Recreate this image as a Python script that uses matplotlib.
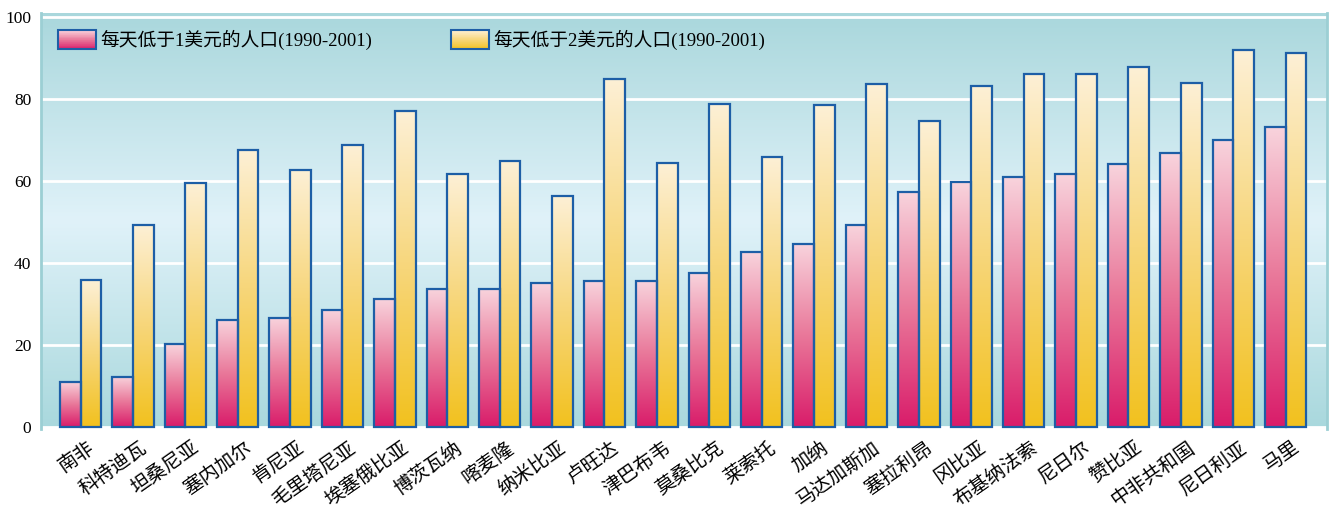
import numpy as np
import matplotlib
matplotlib.use('Agg')
import matplotlib.pyplot as plt
from matplotlib.colors import LinearSegmentedColormap
from matplotlib.legend_handler import HandlerBase
from matplotlib.patches import Rectangle
import matplotlib.transforms as mtransforms

# ---------------- data ----------------
countries = ['南非', '科特迪瓦', '坦桑尼亚', '塞内加尔', '肯尼亚', '毛里塔尼亚',
             '埃塞俄比亚', '博茨瓦纳', '喀麦隆', '纳米比亚', '卢旺达', '津巴布韦',
             '莫桑比克', '莱索托', '加纳', '马达加斯加', '塞拉利昂', '冈比亚',
             '布基纳法索', '尼日尔', '赞比亚', '中非共和国', '尼日利亚', '马里']
below_1usd = [11.0, 12.3, 20.2, 26.2, 26.7, 28.7, 31.3, 33.8, 33.8, 35.1, 35.7, 35.7,
              37.7, 42.8, 44.8, 49.3, 57.3, 59.9, 61.1, 61.7, 64.3, 66.9, 70.1, 73.3]
below_2usd = [35.8, 49.3, 59.6, 67.6, 62.8, 68.9, 77.2, 61.8, 64.8, 56.4, 84.9, 64.4,
              78.9, 66.0, 78.6, 83.6, 74.6, 83.3, 86.2, 86.2, 87.8, 83.9, 91.9, 91.3]
series_labels = ['每天低于1美元的人口(1990-2001)', '每天低于2美元的人口(1990-2001)']
yticks = [0, 20, 40, 60, 80, 100]

FONT = ['Liberation Serif', 'Noto Sans CJK SC']
plt.rcParams['font.family'] = FONT

EDGE = '#1d5ea6'
pink_cmap = LinearSegmentedColormap.from_list('pink', ['#d91c6a', '#e9789a', '#f8d4dd'])
gold_cmap = LinearSegmentedColormap.from_list('gold', ['#f2c11e', '#f7d67a', '#fdf0d6'])
bg_cmap = LinearSegmentedColormap.from_list(
    'bg', [(0, '#a9d8dd'), (0.5, '#e0f2f9'), (1, '#a9d7dc')])


class GradHandler(HandlerBase):
    def __init__(self, cmap, edge):
        super().__init__()
        self.cmap = cmap
        self.edge = edge

    def create_artists(self, legend, orig_handle, xdescent, ydescent,
                       width, height, fontsize, trans):
        n = 30
        arts = []
        for i in range(n):
            r = Rectangle((-xdescent, -ydescent + i * height / n), width,
                          height / n * 1.05, facecolor=self.cmap((i + 0.5) / n),
                          edgecolor='none', transform=trans)
            arts.append(r)
        arts.append(Rectangle((-xdescent, -ydescent), width, height,
                              facecolor='none', edgecolor=self.edge, lw=1.5,
                              transform=trans))
        return arts


W, H = 1333, 508
fig = plt.figure(figsize=(W / 100, H / 100), dpi=100)
ax_top, ax_bot, ax_l, ax_r = 13, 428.5, 41, 1327
ax = fig.add_axes([ax_l / W, (H - ax_bot) / H, (ax_r - ax_l) / W, (ax_bot - ax_top) / H])

x = np.arange(len(countries))
w = 0.395
xlim = (-0.754, 23.79)
ylim = (-0.3, 101)

grad = np.linspace(0, 1, 256).reshape(-1, 1)
ax.imshow(grad, aspect='auto', cmap=bg_cmap, origin='lower',
          extent=[xlim[0], xlim[1], ylim[0], ylim[1]], zorder=0,
          interpolation='bilinear')

bars1 = ax.bar(x - w / 2, below_1usd, w, facecolor='none', edgecolor=EDGE,
               lw=1.6, zorder=3)
bars2 = ax.bar(x + w / 2, below_2usd, w, facecolor='none', edgecolor=EDGE,
               lw=1.6, zorder=3)
for bars, cmap in ((bars1, pink_cmap), (bars2, gold_cmap)):
    for b in bars:
        bx, by, bw, bh = b.get_x(), b.get_y(), b.get_width(), b.get_height()
        ax.imshow(grad, aspect='auto', cmap=cmap, origin='lower',
                  extent=[bx, bx + bw, by, by + bh], zorder=2,
                  interpolation='bilinear')

ax.set_xlim(*xlim)
ax.set_ylim(*ylim)

ax.set_yticks(yticks)
ax.set_yticklabels([str(v) for v in yticks], fontsize=12.5)
ax.yaxis.grid(True, color='white', lw=2)
ax.set_axisbelow(True)
for gl in ax.get_ygridlines():
    gl.set_zorder(1)

ax.set_xticks(x)
ax.set_xticklabels([''] * len(countries))
off = mtransforms.ScaledTranslation(7 / 100, -10 / 100, fig.dpi_scale_trans)
for xi, name in zip(x, countries):
    ax.text(xi, 0, name, transform=ax.get_xaxis_transform() + off,
            rotation=35, ha='right', va='top', rotation_mode='anchor',
            fontsize=14, clip_on=False)
ax.tick_params(axis='both', length=0)
ax.tick_params(axis='y', pad=7)

for s in ('top', 'bottom'):
    ax.spines[s].set_visible(False)
for s in ('left', 'right'):
    ax.spines[s].set_color('#9ccfd4')
    ax.spines[s].set_linewidth(2)

common = dict(loc='upper left', frameon=False, fontsize=13.5, borderpad=0,
              borderaxespad=0, handlelength=2.05, handleheight=1.2,
              handletextpad=0.22)
anchor_y = (ax_bot - 30) / (ax_bot - ax_top)
leg1 = ax.legend([bars1], [series_labels[0]],
                 bbox_to_anchor=((58 - ax_l) / (ax_r - ax_l), anchor_y),
                 handler_map={type(bars1): GradHandler(pink_cmap, EDGE)}, **common)
ax.add_artist(leg1)
leg2 = ax.legend([bars2], [series_labels[1]],
                 bbox_to_anchor=((451 - ax_l) / (ax_r - ax_l), anchor_y),
                 handler_map={type(bars2): GradHandler(gold_cmap, EDGE)}, **common)

fig.savefig('out.png', dpi=100)
